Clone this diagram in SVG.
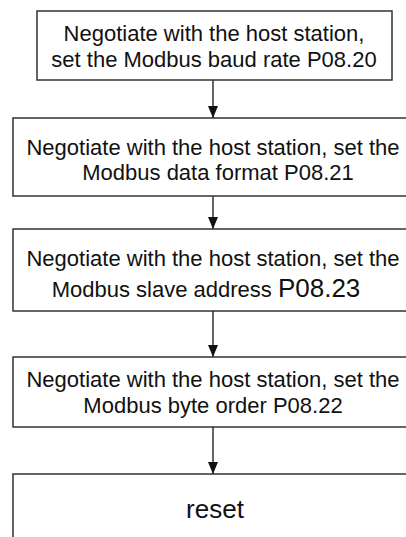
<svg xmlns="http://www.w3.org/2000/svg" width="406" height="537" viewBox="0 0 406 537">
<style>
.box{fill:#fff;stroke:#333;stroke-width:1.5}
.t{font-family:"Liberation Sans",Arial,sans-serif;font-size:22px;fill:#111;text-anchor:middle}
.c{stroke:#333;stroke-width:1.5;fill:none}
</style>
<defs>
<marker id="ah" viewBox="0 0 12 10" refX="12" refY="5" markerWidth="12" markerHeight="10" markerUnits="userSpaceOnUse" orient="auto">
<path d="M0,0 L12,5 L0,10 Z" fill="#111"/>
</marker>
</defs>
<rect width="406" height="537" fill="#fff"/>
<g id="n1">
<rect class="box" x="37" y="11" width="355" height="69"/>
<text class="t" x="214" y="41">Negotiate with the host station,</text>
<text class="t" x="214" y="67">set the Modbus baud rate P08.20</text>
</g>
<g id="n2">
<rect class="box" x="13" y="118" width="400" height="78"/>
<text class="t" x="213" y="155">Negotiate with the host station, set the</text>
<text class="t" x="218" y="180">Modbus data format P08.21</text>
</g>
<g id="n3">
<rect class="box" x="13" y="229" width="400" height="82"/>
<text class="t" x="213" y="266">Negotiate with the host station, set the</text>
<text class="t" x="206" y="297">Modbus slave address <tspan style="font-size:26px">P08.23</tspan></text>
</g>
<g id="n4">
<rect class="box" x="13" y="357" width="400" height="70"/>
<text class="t" x="213" y="387">Negotiate with the host station, set the</text>
<text class="t" x="213" y="413">Modbus byte order P08.22</text>
</g>
<g id="n5">
<rect class="box" x="13" y="474" width="400" height="80"/>
<text class="t" x="215" y="518" style="font-size:26px">reset</text>
</g>
<g id="connectors">
<line class="c" x1="213" y1="80" x2="213" y2="118" marker-end="url(#ah)"/>
<line class="c" x1="213" y1="196" x2="213" y2="229" marker-end="url(#ah)"/>
<line class="c" x1="213" y1="311" x2="213" y2="357" marker-end="url(#ah)"/>
<line class="c" x1="213" y1="427" x2="213" y2="474" marker-end="url(#ah)"/>
</g>
</svg>
